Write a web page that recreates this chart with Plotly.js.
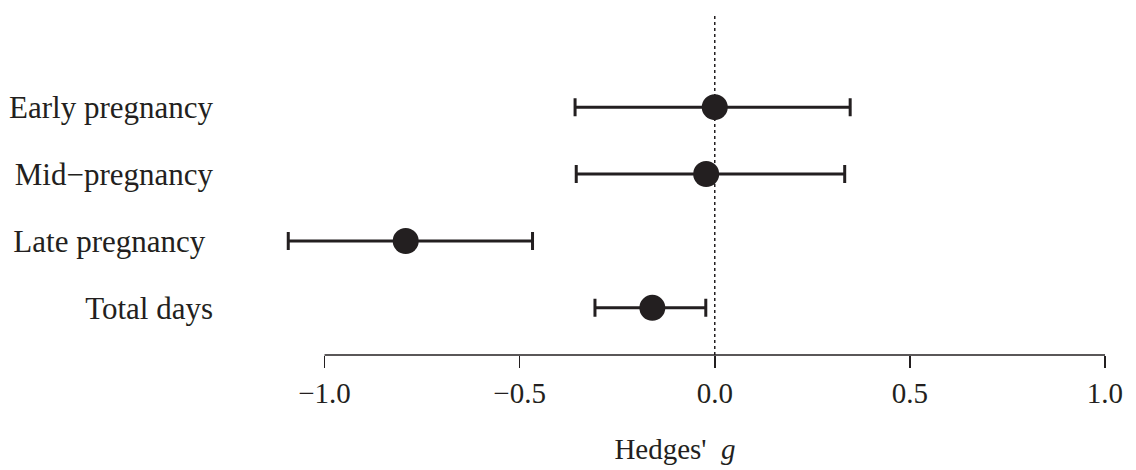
<!DOCTYPE html>
<html>
<head>
<meta charset="utf-8">
<script src="https://cdn.plot.ly/plotly-3.0.1.min.js"></script>
<style>html,body{margin:0;padding:0;background:#fff;}#chart{width:1136px;height:470px;}</style>
</head>
<body>
<div id="chart"></div>
<script>
const categories = ["Early pregnancy", "Mid\u2212pregnancy", "Late pregnancy\u00a0", "Total days"];
const rowPos = [4, 3, 2, 1];
const estimates = [0.0, -0.022, -0.792, -0.160];
const ciLower = [-0.358, -0.355, -1.093, -0.307];
const ciUpper = [0.347, 0.333, -0.467, -0.023];
const xTicks = [-1.0, -0.5, 0.0, 0.5, 1.0];
const xTickLabels = ["\u22121.0", "\u22120.5", "0.0", "0.5", "1.0"];

const ink = "#231f20";
const serif = "Liberation Serif, Times New Roman, serif";

const trace = {
  type: "scatter",
  mode: "markers",
  x: estimates,
  y: rowPos,
  marker: {size: 26, color: ink, line: {width: 0}},
  error_x: {
    type: "data",
    symmetric: false,
    array: estimates.map((e, i) => ciUpper[i] - e),
    arrayminus: estimates.map((e, i) => e - ciLower[i]),
    color: ink,
    thickness: 3,
    width: 9
  },
  hoverinfo: "skip",
  showlegend: false
};

const layout = {
  width: 1136,
  height: 470,
  margin: {l: 230, r: 16, t: 0, b: 115},
  paper_bgcolor: "#fff",
  plot_bgcolor: "#fff",
  font: {family: serif, size: 29, color: ink},
  xaxis: {
    range: [-1.2423, 1.0385],
    tickvals: xTicks,
    ticktext: xTickLabels,
    ticks: "outside",
    ticklen: 12,
    tickwidth: 1.5,
    tickcolor: ink,
    showgrid: false,
    zeroline: false,
    showline: false,
    tickfont: {family: serif, size: 29, color: ink},
    title: {text: "Hedges'  <i>g</i>", font: {family: serif, size: 29, color: ink}, standoff: 30},
    fixedrange: true
  },
  yaxis: {
    range: [0.295, 5.602],
    tickvals: rowPos,
    ticktext: categories,
    ticks: "",
    showgrid: false,
    zeroline: false,
    showline: false,
    ticklabelstandoff: 16,
    tickfont: {family: serif, size: 31, color: ink},
    fixedrange: true
  },
  shapes: [
    {type: "line", xref: "x", yref: "paper", x0: -1, x1: 1, y0: 0, y1: 0,
     line: {color: ink, width: 1.5}},
    {type: "line", xref: "x", yref: "paper", x0: 0, x1: 0, y0: 0, y1: 0.963,
     line: {color: ink, width: 1.5, dash: "dot"}, layer: "below"}
  ]
};

Plotly.newPlot("chart", [trace], layout, {displayModeBar: false, staticPlot: true});
</script>
</body>
</html>
